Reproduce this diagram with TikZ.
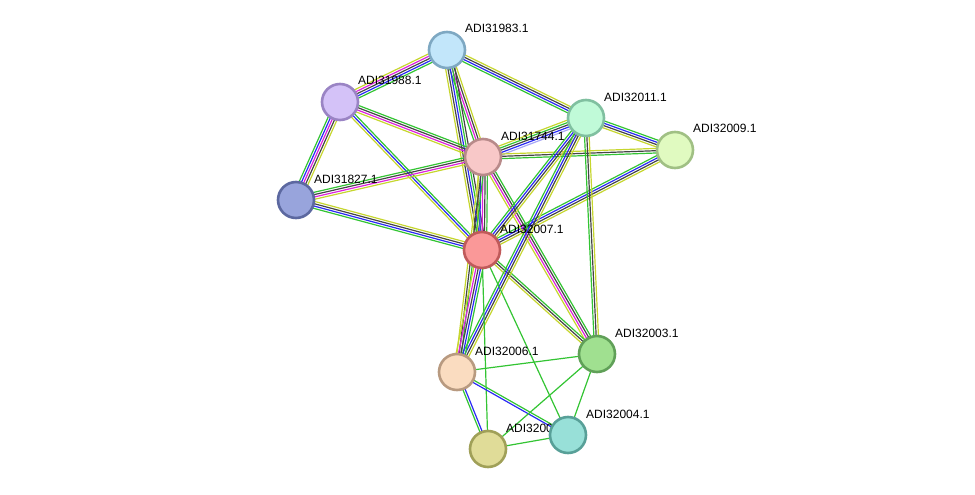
\documentclass[tikz,border=0pt]{standalone}
\usepackage{fontspec}
\setmainfont{Liberation Sans}
\usetikzlibrary{calc,backgrounds}
\definecolor{sgrn}{HTML}{33C433}
\definecolor{sblu}{HTML}{2A2AF5}
\definecolor{sblk}{HTML}{454545}
\definecolor{smag}{HTML}{DD22DD}
\definecolor{syel}{HTML}{C6D62E}
\definecolor{slb}{HTML}{A8A8F5}
\definecolor{f83}{HTML}{C2E6FA}\definecolor{d83}{HTML}{7EA8C2}
\definecolor{f88}{HTML}{D4C2F8}\definecolor{d88}{HTML}{9A84C4}
\definecolor{f27}{HTML}{98A4DC}\definecolor{d27}{HTML}{5C68A0}
\definecolor{f44}{HTML}{F8C8C8}\definecolor{d44}{HTML}{B88A8A}
\definecolor{f11}{HTML}{C0FAD8}\definecolor{d11}{HTML}{80C0A0}
\definecolor{f09}{HTML}{E0FAC0}\definecolor{d09}{HTML}{A0C084}
\definecolor{f07}{HTML}{FA9898}\definecolor{d07}{HTML}{C05A5A}
\definecolor{f06}{HTML}{FADCC0}\definecolor{d06}{HTML}{B89A80}
\definecolor{f03}{HTML}{A0E090}\definecolor{d03}{HTML}{60A058}
\definecolor{f05}{HTML}{E0DC98}\definecolor{d05}{HTML}{A0A058}
\definecolor{f04}{HTML}{98E0D8}\definecolor{d04}{HTML}{58A098}
\newcommand\bundle[3]{%
  \foreach \bcol [count=\bn] in {#3} {\xdef\bundlen{\bn}}%
  \foreach \bcol [count=\bi] in {#3} {%
    \pgfmathsetmacro\boff{(\bi-(\bundlen+1)/2)*2.3}%
    \draw[line width=1.2pt,color=\bcol] ($(#1)!\boff pt!90:(#2)$) -- ($(#2)!\boff pt!-90:(#1)$);
  }%
}
\tikzset{
  prot/.style={circle,minimum size=36pt,inner sep=0pt,line width=2.6pt},
  lab/.style={anchor=west,font=\fontsize{12}{14}\selectfont,inner sep=0pt}
}
\begin{document}
\begin{tikzpicture}[x=1pt,y=-1pt]
\useasboundingbox (0,0) rectangle (975,495);
% labels
\node[lab] (l83) at (465,28) {ADI31983.1};
\node[lab] (l88) at (358,80) {ADI31988.1};
\node[lab] (l27) at (314,179) {ADI31827.1};
\node[lab] (l44) at (501,136) {ADI31744.1};
\node[lab] (l11) at (604,97) {ADI32011.1};
\node[lab] (l09) at (693,128) {ADI32009.1};
\node[lab] (l07) at (500,229) {ADI32007.1};
\node[lab] (l06) at (475,351) {ADI32006.1};
\node[lab] (l03) at (615,333) {ADI32003.1};
\node[lab] (l04) at (586,414) {ADI32004.1};
\node[lab] (l05) at (506,428) {ADI3200};
% nodes
\node[prot,fill=f83,draw=d83] (n83) at (447,50) {};
\node[prot,fill=f88,draw=d88] (n88) at (340,102) {};
\node[prot,fill=f27,draw=d27] (n27) at (296,200) {};
\node[prot,fill=f44,draw=d44] (n44) at (483,157) {};
\node[prot,fill=f11,draw=d11] (n11) at (586,118) {};
\node[prot,fill=f09,draw=d09] (n09) at (675,150) {};
\node[prot,fill=f07,draw=d07] (n07) at (482,250) {};
\node[prot,fill=f06,draw=d06] (n06) at (457,372) {};
\node[prot,fill=f03,draw=d03] (n03) at (597,354) {};
\node[prot,fill=f05,draw=d05] (n05) at (488,449) {};
\node[prot,fill=f04,draw=d04] (n04) at (568,435) {};
\begin{scope}[on background layer]
\bundle{n83}{n88}{syel,smag,sblk,sblu,sgrn}
\bundle{n83}{n44}{sgrn,smag,sblk,syel}
\bundle{n83}{n07}{syel,sblk,sblu,sgrn,sblk}
\bundle{n83}{n11}{sgrn,sblu,sblk,syel}
\bundle{n88}{n27}{sgrn,sblu,smag,sblk,syel}
\bundle{n88}{n44}{syel,smag,sblk,sgrn}
\bundle{n88}{n07}{syel,sblu,sgrn}
\bundle{n27}{n44}{syel,smag,sblk,sgrn}
\bundle{n27}{n07}{sgrn,sblu,sblk,syel}
\bundle{n44}{n11}{slb,sblu,sblk,sgrn,syel}
\bundle{n44}{n09}{sgrn,sblk,syel}
\bundle{n11}{n09}{syel,sblk,sblu,sgrn}
\bundle{n09}{n07}{sgrn,sblu,sblk,syel}
\bundle{n44}{n07}{syel,sblu,smag,sblk,sgrn}
\bundle{n44}{n06}{syel,sblk,sgrn}
\bundle{n44}{n03}{syel,smag,sblk,sgrn}
\bundle{n07}{n03}{syel,sblk,sgrn}
\bundle{n11}{n03}{sgrn,sblk,syel}
\bundle{n11}{n07}{sgrn,sblu,sblk,syel}
\bundle{n11}{n06}{sgrn,sblu,sblk,syel}
\bundle{n07}{n06}{syel,smag,sblk,sblu,sgrn}
\bundle{n07}{n04}{sgrn}
\bundle{n07}{n05}{sgrn}
\bundle{n06}{n03}{sgrn}
\bundle{n06}{n04}{sblu,sgrn}
\bundle{n06}{n05}{sgrn,sblu}
\bundle{n03}{n04}{sgrn}
\bundle{n03}{n05}{sgrn}
\bundle{n04}{n05}{sgrn}
\end{scope}
\end{tikzpicture}
\end{document}
